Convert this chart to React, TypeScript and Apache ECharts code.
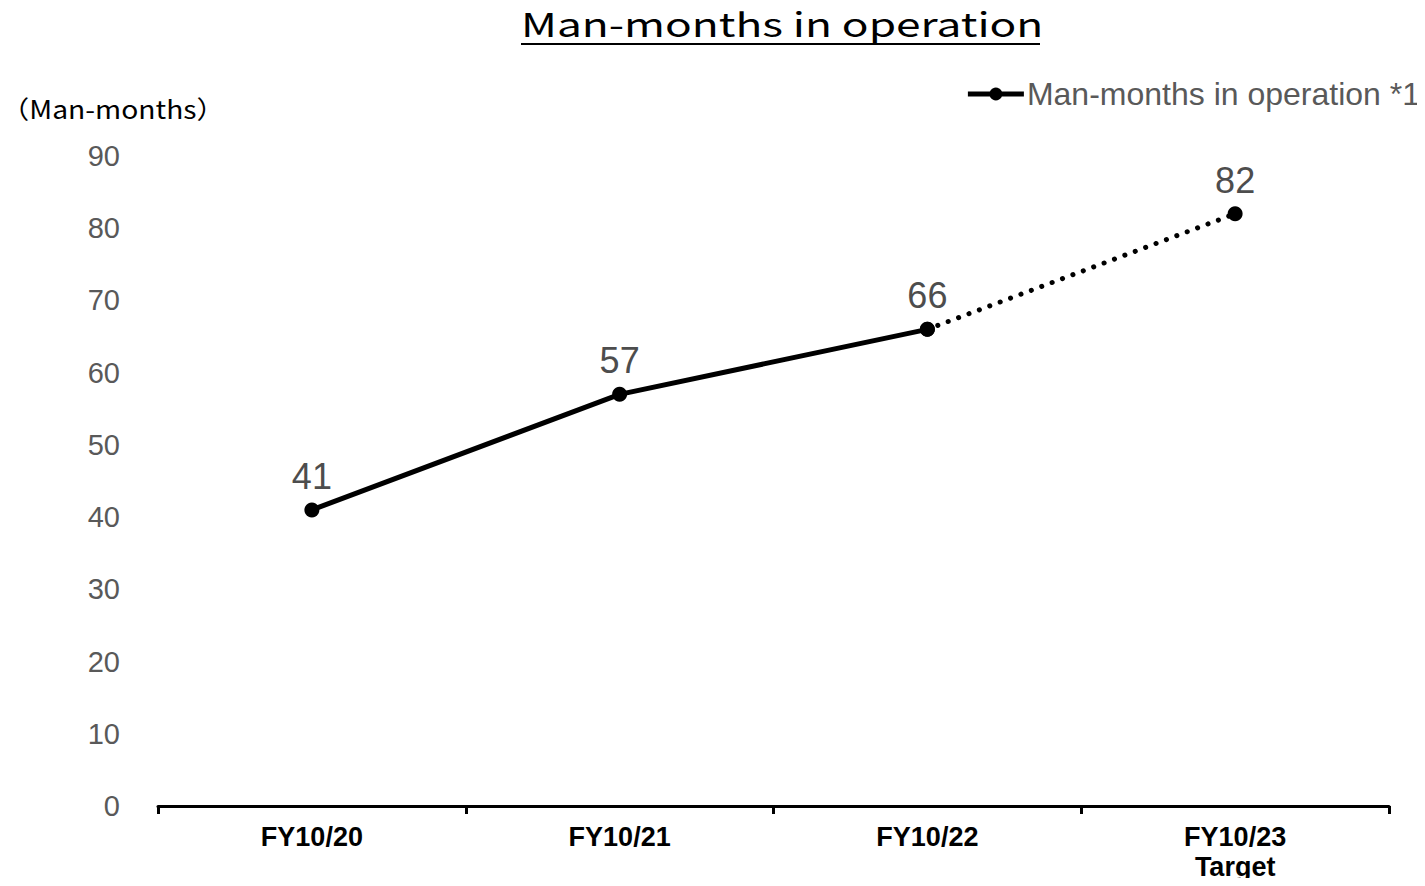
import React, { useEffect, useRef } from "react";
import * as echarts from "echarts";

const categories = ["FY10/20", "FY10/21", "FY10/22", "FY10/23\nTarget"];
const actualValues: (number | null)[] = [41, 57, 66, null];
const targetValues: (number | null)[] = [null, null, 66, 82];
const seriesName = "Man-months in operation *1";
const titleText = "Man-months in operation";
const unitText = "（Man-months）";

export default function App() {
  const ref = useRef<HTMLDivElement>(null);
  useEffect(() => {
    const chart = echarts.init(ref.current!, null, { renderer: "svg" });
    const labelStyle = {
      show: true,
      position: "top",
      distance: 8,
      fontSize: 36,
      color: "#4d4d4d",
      fontFamily: "Liberation Sans",
    };
    chart.setOption({
      animation: false,
      backgroundColor: "#ffffff",
      grid: { left: 158, right: 36, top: 156, bottom: 80 },
      graphic: [
        {
          type: "text",
          x: 521,
          y: 6,
          scaleX: 1.34,
          style: {
            text: titleText,
            fontSize: 33,
            fontFamily: "Noto Sans CJK JP",
            fill: "#000000",
          },
        },
        {
          type: "rect",
          shape: { x: 521, y: 43, width: 519, height: 2 },
          style: { fill: "#000000" },
        },
        {
          type: "text",
          x: 1,
          y: 96,
          scaleX: 1.13,
          style: {
            text: unitText,
            fontSize: 25,
            fontFamily: "Noto Sans CJK JP",
            fill: "#000000",
          },
        },
      ],
      legend: {
        show: true,
        data: [seriesName],
        right: 0,
        top: 73,
        itemWidth: 56,
        itemHeight: 16,
        itemGap: 0,
        lineStyle: { width: 5 },
        textStyle: {
          fontSize: 32,
          color: "#595959",
          fontFamily: "Liberation Sans",
          padding: [0, 0, 0, -2],
        },
      },
      xAxis: {
        type: "category",
        data: categories,
        boundaryGap: true,
        axisLine: { lineStyle: { color: "#000000", width: 3 } },
        axisTick: { show: true, length: 8, lineStyle: { color: "#000000", width: 3 } },
        axisLabel: {
          fontSize: 27,
          fontWeight: "bold",
          color: "#000000",
          fontFamily: "Liberation Sans",
          margin: 16,
          lineHeight: 30,
        },
      },
      yAxis: {
        type: "value",
        min: 0,
        max: 90,
        interval: 10,
        axisLine: { show: false },
        axisTick: { show: false },
        splitLine: { show: false },
        axisLabel: {
          fontSize: 29,
          color: "#595959",
          fontFamily: "Liberation Sans",
          margin: 38,
        },
      },
      series: [
        {
          name: seriesName,
          type: "line",
          data: actualValues,
          symbol: "circle",
          symbolSize: 15,
          itemStyle: { color: "#000000" },
          lineStyle: { color: "#000000", width: 5 },
          label: labelStyle,
          z: 3,
        },
        {
          name: "target",
          type: "line",
          data: targetValues.map((v, i) =>
            v !== null && actualValues[i] !== null ? { value: v, label: { show: false } } : v
          ),
          symbol: "circle",
          symbolSize: 15,
          itemStyle: { color: "#000000" },
          lineStyle: { color: "#000000", width: 5, type: [0.1, 11], cap: "round" },
          label: labelStyle,
          z: 2,
        },
      ],
    });
    return () => chart.dispose();
  }, []);
  return <div ref={ref} style={{ width: 1425, height: 886, margin: -8 }} />;
}
